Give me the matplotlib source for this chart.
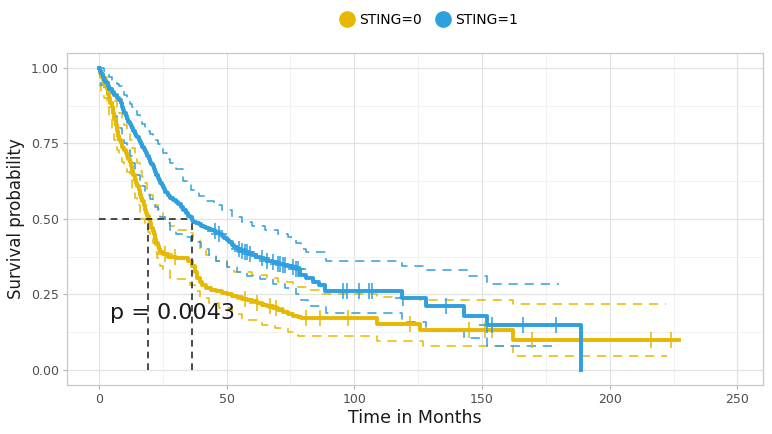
import numpy as np
import matplotlib
matplotlib.use("Agg")
import matplotlib.pyplot as plt
from matplotlib.lines import Line2D

# colours of the two groups
YEL = "#E7B800"
BLU = "#2E9FDF"

# Kaplan-Meier estimates: (time, survival) breakpoints
s0_time = [0, 0.5, 1, 1.5, 2, 2.5, 3, 3.5, 4, 4.5, 5, 5.5, 6, 6.5, 7, 7.5, 8, 8.5,
           9, 9.5, 10, 10.5, 11, 11.5, 12, 12.5, 13, 13.5, 14, 14.5, 15, 15.5, 16,
           16.5, 17, 17.5, 18, 18.5, 19, 19.5, 20, 20.5, 21, 21.5, 22, 22.5, 23,
           23.5, 24, 25, 27, 30, 35, 36.5, 37.5, 38.5, 39.5, 40.5, 42, 44, 46, 48,
           50, 52, 54, 56, 58, 60, 62, 64, 66, 68, 70, 72, 74, 76, 78, 79, 109,
           125.6, 162, 227]
s0_surv = [1.0, 0.985, 0.97, 0.96, 0.95, 0.94, 0.93, 0.915, 0.90, 0.885, 0.87,
           0.85, 0.83, 0.81, 0.79, 0.775, 0.76, 0.75, 0.74, 0.735, 0.73, 0.72, 0.71,
           0.70, 0.69, 0.675, 0.66, 0.645, 0.63, 0.62, 0.61, 0.595, 0.58, 0.57,
           0.56, 0.545, 0.53, 0.52, 0.51, 0.495, 0.485, 0.47, 0.46, 0.45, 0.435,
           0.42, 0.41, 0.40, 0.39, 0.385, 0.375, 0.37, 0.36, 0.345, 0.325, 0.305,
           0.29, 0.28, 0.272, 0.265, 0.26, 0.255, 0.25, 0.245, 0.24, 0.235, 0.23,
           0.227, 0.222, 0.215, 0.21, 0.205, 0.198, 0.192, 0.186, 0.18, 0.175,
           0.171, 0.151, 0.132, 0.099, 0.099]
s0_cens = [25.8, 29.7, 57, 62, 67, 69.5, 81, 86.5, 97.5, 121.7, 145, 151, 154,
           169.5, 216, 224]

s1_time = [0, 0.5, 1, 1.5, 2, 2.5, 3, 3.5, 4, 5, 6, 7, 8, 8.5, 9, 9.5, 10, 10.5,
           11, 11.5, 12, 12.5, 13, 13.5, 14, 14.5, 15, 15.5, 16, 16.5, 17, 17.5,
           18, 18.5, 19, 19.5, 20, 20.5, 21, 21.5, 22, 22.5, 23, 23.5, 24, 24.5,
           25, 25.5, 26, 26.5, 27, 27.5, 28, 29, 30, 31, 32, 33, 34, 35, 35.5,
           36.4, 37, 38, 39, 40, 41, 42, 43, 44, 45, 46, 47, 48, 49, 50, 51, 52,
           53, 54, 55.5, 57, 58.5, 60, 61.5, 63, 64.5, 66, 68, 70, 72, 74, 76, 77,
           78.6, 81, 84, 86, 88.5, 118.5, 128, 143, 151.8, 188.6]
s1_surv = [1.0, 0.99, 0.98, 0.97, 0.96, 0.955, 0.95, 0.94, 0.93, 0.92, 0.91, 0.90,
           0.895, 0.885, 0.87, 0.86, 0.85, 0.84, 0.83, 0.822, 0.815, 0.808, 0.80,
           0.79, 0.78, 0.775, 0.77, 0.762, 0.755, 0.748, 0.74, 0.732, 0.725, 0.718,
           0.71, 0.70, 0.69, 0.682, 0.675, 0.665, 0.655, 0.645, 0.635, 0.628, 0.62,
           0.612, 0.605, 0.598, 0.59, 0.585, 0.58, 0.575, 0.57, 0.562, 0.555,
           0.548, 0.54, 0.53, 0.52, 0.51, 0.505, 0.495, 0.49, 0.485, 0.482, 0.478,
           0.474, 0.47, 0.468, 0.465, 0.46, 0.455, 0.45, 0.445, 0.438, 0.43, 0.422,
           0.415, 0.408, 0.40, 0.395, 0.39, 0.385, 0.38, 0.375, 0.37, 0.366, 0.362,
           0.357, 0.352, 0.348, 0.345, 0.34, 0.335, 0.313, 0.303, 0.29, 0.28, 0.26,
           0.237, 0.21, 0.18, 0.148, 0.0]
s1_cens = [45.4, 47, 55, 56, 57, 58, 59, 64, 66, 68, 70, 71, 72, 73, 76, 77, 78,
           95.5, 97, 101.7, 105.6, 106.8, 119, 136, 152, 154, 166, 179]

# confidence bands
s0_up_time = [0, 1, 2, 3, 4, 5, 6, 7, 8, 9, 10, 11, 12, 13, 14, 15, 16, 17, 18, 19,
              20, 21, 22, 23, 24, 25, 26, 28, 31, 34.4, 37, 39.5, 42, 46, 50, 53,
              60, 66, 70, 76, 81, 86, 109, 125.6, 162, 222]
s0_up = [1.0, 0.985, 0.97, 0.955, 0.94, 0.915, 0.89, 0.87, 0.85, 0.83, 0.81, 0.785,
         0.76, 0.735, 0.71, 0.685, 0.66, 0.64, 0.62, 0.60, 0.58, 0.562, 0.545,
         0.532, 0.52, 0.507, 0.495, 0.475, 0.465, 0.455, 0.43, 0.40, 0.38, 0.36,
         0.34, 0.325, 0.315, 0.305, 0.29, 0.276, 0.263, 0.25, 0.243, 0.23, 0.217,
         0.217]
s0_lo_time = [0, 0.5, 1, 2, 3, 4, 5, 6, 7, 8, 9, 10, 11, 12, 13, 14, 15, 16, 17, 18,
              19.2, 20, 21, 22, 22.7, 24, 25, 28, 35.6, 37.5, 39.5, 43, 47, 52, 56,
              64, 69, 74, 78, 102, 109, 127, 162, 222.6]
s0_lo = [1.0, 0.94, 0.92, 0.90, 0.87, 0.83, 0.80, 0.76, 0.73, 0.71, 0.69, 0.67,
         0.655, 0.63, 0.60, 0.57, 0.545, 0.52, 0.50, 0.48, 0.457, 0.44, 0.42, 0.39,
         0.37, 0.345, 0.33, 0.30, 0.28, 0.26, 0.237, 0.22, 0.205, 0.185, 0.165,
         0.148, 0.138, 0.125, 0.113, 0.112, 0.095, 0.079, 0.046, 0.046]

s1_up_time = [0, 2, 3, 4, 5, 6, 7, 8, 9, 10, 11, 12, 13, 14, 15, 16, 17, 18, 19, 20,
              21, 22, 23, 24, 25, 26.5, 28, 30, 33, 36, 39, 42, 45, 48, 52, 56, 60,
              65, 70, 74, 77, 79, 81, 89, 118.5, 128, 144, 152, 180]
s1_up = [1.0, 0.99, 0.98, 0.97, 0.962, 0.955, 0.948, 0.94, 0.925, 0.91, 0.895,
         0.88, 0.87, 0.86, 0.845, 0.83, 0.815, 0.80, 0.79, 0.78, 0.77, 0.76, 0.748,
         0.735, 0.72, 0.70, 0.685, 0.665, 0.625, 0.595, 0.575, 0.56, 0.545, 0.53,
         0.505, 0.49, 0.475, 0.465, 0.45, 0.44, 0.42, 0.40, 0.39, 0.362, 0.345,
         0.33, 0.31, 0.286, 0.286]
s1_lo_time = [0, 0.5, 1, 2, 3, 4, 5, 6, 7, 8, 9, 10, 11, 12, 13, 14, 15, 16, 17, 18,
              19, 20, 21, 22, 23, 24, 26, 28, 30, 33, 36, 40, 43, 46, 50, 54, 58, 63,
              68, 73, 77, 79, 82, 89, 118.5, 128, 143, 152, 177.6]
s1_lo = [1.0, 0.96, 0.945, 0.93, 0.91, 0.88, 0.86, 0.84, 0.82, 0.80, 0.775, 0.75,
         0.73, 0.71, 0.685, 0.66, 0.645, 0.63, 0.61, 0.59, 0.578, 0.565, 0.552,
         0.54, 0.522, 0.505, 0.485, 0.465, 0.45, 0.44, 0.425, 0.40, 0.38, 0.36,
         0.34, 0.325, 0.31, 0.30, 0.285, 0.27, 0.25, 0.23, 0.21, 0.188, 0.16, 0.13,
         0.105, 0.078, 0.078]

# median survival times and log-rank p
medians = [19.2, 36.4]
pval_text = "p = 0.0043"
groups = ["STING=0", "STING=1"]


def step_at(times, surv, t):
    idx = np.searchsorted(times, t, side="right") - 1
    return np.asarray(surv)[idx]


fig = plt.figure(figsize=(7.72, 4.34), dpi=100)
ax = fig.add_axes([0.0868, 0.113, 0.9015, 0.765])

ax.set_xlim(-12.5, 260)
ax.set_ylim(-0.05, 1.05)

# grid like ggplot theme_light
ax.set_xticks([0, 50, 100, 150, 200, 250])
ax.set_yticks([0, 0.25, 0.5, 0.75, 1.0])
ax.set_yticklabels(["0.00", "0.25", "0.50", "0.75", "1.00"])
ax.set_xticks([25, 75, 125, 175, 225], minor=True)
ax.set_yticks([0.125, 0.375, 0.625, 0.875], minor=True)
ax.grid(which="major", color="#E3E3E3", lw=0.9)
ax.grid(which="minor", color="#F0F0F0", lw=0.6)
ax.set_axisbelow(True)
for sp in ax.spines.values():
    sp.set_color("#C8C8C8")
    sp.set_linewidth(0.9)
ax.tick_params(which="major", length=3, color="#B3B3B3", labelsize=9,
               labelcolor="#4D4D4D", pad=3)
ax.tick_params(which="minor", length=0)

dash = (0, (6, 4.5))
for t, s, c in [(s0_up_time, s0_up, YEL), (s0_lo_time, s0_lo, YEL),
                (s1_up_time, s1_up, BLU), (s1_lo_time, s1_lo, BLU)]:
    ax.step(t, s, where="post", color=c, lw=1.1, ls=dash, zorder=2)

ax.step(s0_time, s0_surv, where="post", color=YEL, lw=2.8, zorder=3)
ax.step(s1_time, s1_surv, where="post", color=BLU, lw=2.8, zorder=3)

ax.plot(s0_cens, step_at(s0_time, s0_surv, s0_cens), ls="none", marker="+",
        ms=11, mew=1.1, color=YEL, zorder=4)
ax.plot(s1_cens, step_at(s1_time, s1_surv, s1_cens), ls="none", marker="+",
        ms=11, mew=1.1, color=BLU, zorder=4)

# median lines
ax.plot([0, max(medians)], [0.5, 0.5], color="#2B2B2B", lw=1.2, ls=(0, (4, 3)),
        zorder=5)
for m in medians:
    ax.plot([m, m], [0, 0.5], color="#2B2B2B", lw=1.2, ls=(0, (4, 3)), zorder=5)

ax.text(4.3, 0.19, pval_text, fontsize=16, color="#1A1A1A", va="center",
        ha="left", zorder=6)

ax.set_xlabel("Time in Months", fontsize=12.5, color="#1A1A1A", labelpad=2)
ax.set_ylabel("Survival probability", fontsize=12, color="#1A1A1A", labelpad=4)

handles = [Line2D([], [], ls="none", marker="o", ms=11, color=YEL),
           Line2D([], [], ls="none", marker="o", ms=11, color=BLU)]
fig.legend(handles, groups, loc="center", bbox_to_anchor=(0.555, 0.955), ncol=2,
           frameon=False, fontsize=10, handletextpad=0.3, columnspacing=0.9,
           handlelength=1.2)

fig.savefig("out.png", dpi=100)
